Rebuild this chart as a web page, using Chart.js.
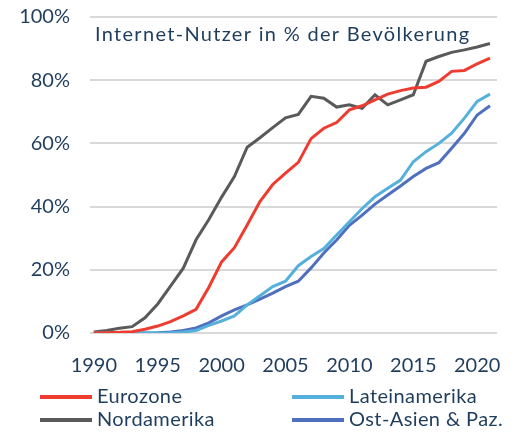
<!DOCTYPE html>
<html>
<head>
<meta charset="utf-8">
<script src="https://cdn.jsdelivr.net/npm/chart.js@4"></script>
<style>
  html, body { margin: 0; padding: 0; background: #fff; }
  #wrap { width: 529px; height: 435px; }
</style>
</head>
<body>
<div id="wrap"><canvas id="myChart" width="529" height="435"></canvas></div>
<script>
// Daten
const jahre = [];
for (let j = 1990; j <= 2021; j++) jahre.push(j);

const eurozone = [0, 0.1, 0.2, 0.4, 1.2, 2.2, 3.6, 5.4, 7.5, 14.5, 22.5, 27, 34.2, 41.6, 47, 50.6, 54, 61.5, 64.8, 66.6, 70.6, 71.9, 73.8, 75.6, 76.7, 77.5, 77.8, 79.6, 82.8, 83.1, 85.2, 87];
const lateinamerika = [0, 0, 0, 0, 0, 0, 0.1, 0.3, 0.8, 2.4, 3.8, 5.4, 8.9, 11.8, 14.7, 16.4, 21.3, 24.2, 26.7, 31, 35.2, 39.4, 43.1, 45.8, 48.4, 54.2, 57.4, 60, 63.2, 68, 73.3, 75.6];
const nordamerika = [0.3, 0.8, 1.5, 2, 4.8, 9.2, 14.8, 20.5, 29.5, 35.9, 43, 49.5, 58.8, 61.8, 65, 68.1, 69.2, 74.9, 74.3, 71.5, 72.2, 71.1, 75.4, 72.2, 73.8, 75.4, 86, 87.5, 88.8, 89.6, 90.5, 91.6];
const ostasien = [0, 0, 0, 0, 0, 0.1, 0.3, 0.8, 1.6, 3.2, 5.4, 7.3, 8.9, 10.7, 12.6, 14.7, 16.4, 20.6, 25.3, 29.4, 34.1, 37.3, 40.8, 43.7, 46.5, 49.5, 52.1, 53.9, 58.5, 63.2, 69, 71.9];

const xTicks = [1990, 1995, 2000, 2005, 2010, 2015, 2020];
const yTicks = [0, 20, 40, 60, 80, 100];

const titel = "Internet-Nutzer in % der Bevölkerung";
const textFarbe = "#1f3d5c";
const schrift = "Lato, 'Open Sans', sans-serif";

function punkte(werte) {
  return werte.map((v, i) => ({ x: jahre[i], y: v }));
}

function serie(label, werte, farbe) {
  return {
    label: label,
    data: punkte(werte),
    borderColor: farbe,
    backgroundColor: farbe,
    borderWidth: 3,
    pointRadius: 0,
    tension: 0,
  };
}

// Titel im Diagramm + Legende in zwei Spalten
const extras = {
  id: "extras",
  afterDraw(chart) {
    const ctx = chart.ctx;
    const area = chart.chartArea;
    ctx.save();
    ctx.fillStyle = textFarbe;
    ctx.font = "20px " + schrift;
    ctx.letterSpacing = "1.3px";
    ctx.textBaseline = "middle";
    ctx.textAlign = "left";
    ctx.fillText(titel, area.left + 5, 35);
    ctx.letterSpacing = "0.4px";

    const spalten = [40, 292];
    const zeilen = [397, 420];
    chart.data.datasets.forEach((ds, i) => {
      const x = spalten[i % 2];
      const y = zeilen[Math.floor(i / 2)];
      ctx.strokeStyle = ds.borderColor;
      ctx.lineWidth = 4;
      ctx.beginPath();
      ctx.moveTo(x, y);
      ctx.lineTo(x + 52, y);
      ctx.stroke();
      ctx.font = "20px " + schrift;
      ctx.fillStyle = textFarbe;
      ctx.fillText(ds.label, x + 57, y);
    });
    ctx.restore();
  },
};

const ctx = document.getElementById("myChart").getContext("2d");

const myChart = new Chart(ctx, {
  type: "line",
  data: {
    datasets: [
      serie("Eurozone", eurozone, "#ee3d30"),
      serie("Lateinamerika", lateinamerika, "#55b1dc"),
      serie("Nordamerika", nordamerika, "#5a5a5a"),
      serie("Ost-Asien & Paz.", ostasien, "#4f70bd"),
    ],
  },
  options: {
    responsive: false,
    animation: false,
    layout: { padding: { top: 17, right: 32, bottom: 0, left: 0 } },
    plugins: {
      legend: { display: false },
      tooltip: { enabled: false },
    },
    scales: {
      x: {
        type: "linear",
        min: 1989.7,
        max: 2021.55,
        afterBuildTicks: (scale) => {
          scale.ticks = xTicks.map((v) => ({ value: v }));
        },
        afterFit: (scale) => {
          scale.height = 102;
        },
        grid: { display: false },
        border: { display: false },
        ticks: {
          color: textFarbe,
          font: { family: schrift, size: 20 },
          padding: 13,
          maxRotation: 0,
          autoSkip: false,
          callback: (v) => String(v),
        },
      },
      y: {
        min: 0,
        max: 100,
        afterBuildTicks: (scale) => {
          scale.ticks = yTicks.map((v) => ({ value: v }));
        },
        afterFit: (scale) => {
          scale.width = 90;
        },
        grid: {
          color: "#d9d9d9",
          lineWidth: 2,
          drawTicks: true,
          tickLength: 20,
          tickColor: "rgba(0,0,0,0)",
        },
        border: { display: false },
        ticks: {
          color: textFarbe,
          font: { family: schrift, size: 20 },
          padding: 0,
          callback: (v) => v + "%",
        },
      },
    },
  },
  plugins: [extras],
});
</script>
</body>
</html>
